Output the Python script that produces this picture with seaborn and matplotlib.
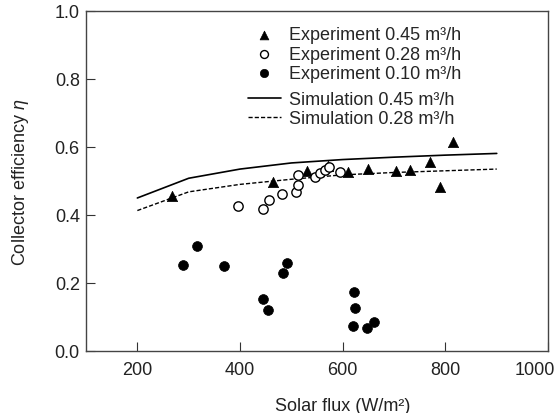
import matplotlib

matplotlib.use("Agg")
import matplotlib.pyplot as plt
import matplotlib.transforms as mtransforms
import pandas as pd
import seaborn as sns

# experiment 0.45 m3/h (triangles)
exp45_flux = [267, 465, 530, 572, 611, 650, 704, 731, 770, 789, 814]
exp45_eta = [0.455, 0.496, 0.530, 0.545, 0.527, 0.535, 0.530, 0.533, 0.557, 0.481, 0.616]

# experiment 0.28 m3/h (open circles)
exp28_flux = [397, 445, 457, 482, 509, 512, 512, 546, 556, 566, 573, 595]
exp28_eta = [0.426, 0.418, 0.445, 0.462, 0.467, 0.488, 0.518, 0.511, 0.524, 0.533, 0.540, 0.525]

# experiment 0.10 m3/h (filled circles)
exp10_flux = [289, 316, 369, 445, 454, 484, 491, 622, 624, 621, 647, 661]
exp10_eta = [0.253, 0.308, 0.250, 0.153, 0.122, 0.229, 0.260, 0.174, 0.127, 0.073, 0.069, 0.084]

# simulation curves
sim_flux = [200, 300, 400, 500, 600, 700, 800, 900]
sim45_eta = [0.450, 0.508, 0.535, 0.553, 0.563, 0.570, 0.576, 0.581]
sim28_eta = [0.413, 0.468, 0.490, 0.505, 0.518, 0.525, 0.530, 0.535]

x_ticks = [200, 400, 600, 800, 1000]
y_ticks = [0.0, 0.2, 0.4, 0.6, 0.8, 1.0]
y_tick_labels = ["0.0", "0.2", "0.4", "0.6", "0.8", "1.0"]

FS = 13
sns.set_theme(style="ticks")
plt.rcParams["font.family"] = ["Liberation Sans", "DejaVu Sans"]
plt.rcParams["mathtext.fontset"] = "custom"
plt.rcParams["mathtext.rm"] = "Liberation Sans"
plt.rcParams["mathtext.it"] = "Liberation Sans:italic"

fig = plt.figure(figsize=(5.57, 4.14), dpi=100)
ax = fig.add_axes([0.1544, 0.1498, 0.8296, 0.8213])

sim45 = pd.DataFrame({"flux": sim_flux, "eta": sim45_eta})
sim28 = pd.DataFrame({"flux": sim_flux, "eta": sim28_eta})
sns.lineplot(data=sim45, x="flux", y="eta", ax=ax, color="black", linewidth=1.2,
             label="Simulation 0.45 m³/h")
sns.lineplot(data=sim28, x="flux", y="eta", ax=ax, color="black", linewidth=1.0,
             linestyle=(0, (3, 1.5)), label="Simulation 0.28 m³/h")

e45 = pd.DataFrame({"flux": exp45_flux, "eta": exp45_eta})
e28 = pd.DataFrame({"flux": exp28_flux, "eta": exp28_eta})
e10 = pd.DataFrame({"flux": exp10_flux, "eta": exp10_eta})
sns.scatterplot(data=e45, x="flux", y="eta", ax=ax, marker="^", s=55, color="black",
                edgecolor="black", linewidth=0.5, label="Experiment 0.45 m³/h", zorder=3)
sns.scatterplot(data=e28, x="flux", y="eta", ax=ax, marker="o", s=45, facecolor="white",
                edgecolor="black", linewidth=1.0, label="Experiment 0.28 m³/h", zorder=4)
sns.scatterplot(data=e10, x="flux", y="eta", ax=ax, marker="o", s=50, color="black",
                edgecolor="black", linewidth=0.5, label="Experiment 0.10 m³/h", zorder=3)

handles, labels = ax.get_legend_handles_labels()
leg_kw = dict(loc="upper left", frameon=False, fontsize=FS, handlelength=1.8,
              handletextpad=0.45, labelspacing=0.13, borderaxespad=0, borderpad=0)
leg1 = ax.legend(handles[2:], labels[2:], bbox_to_anchor=(0.351, 0.955),
                 markerscale=0.85, **leg_kw)
ax.add_artist(leg1)
ax.legend(handles[:2], labels[:2], bbox_to_anchor=(0.351, 0.765), **leg_kw)

ax.set_xlim(100, 1000)
ax.set_ylim(0, 1.0)
ax.set_xticks(x_ticks)
ax.set_yticks(y_ticks)
ax.set_yticklabels(y_tick_labels)
ax.tick_params(direction="in", length=6.5, width=0.8, labelsize=FS,
               colors="#333333", labelcolor="#222222")
ax.tick_params(axis="x", pad=7)
ax.tick_params(axis="y", pad=4.5)
for side in ["top", "right", "left", "bottom"]:
    ax.spines[side].set_visible(True)
    ax.spines[side].set_color("#444444")
    ax.spines[side].set_linewidth(1.0)

# last x tick label sits pulled in from the corner
last = ax.get_xticklabels()[-1]
last.set_transform(last.get_transform() + mtransforms.ScaledTranslation(-0.13, 0, fig.dpi_scale_trans))

ax.set_xlabel("Solar flux (W/m²)", fontsize=FS, color="#222222")
ax.set_ylabel("Collector efficiency $\\mathit{\\eta}$", fontsize=FS, color="#222222")
ax.xaxis.set_label_coords(0.556, -0.134)
ax.yaxis.set_label_coords(-0.12, 0.5)

fig.savefig("out.png", dpi=100)
